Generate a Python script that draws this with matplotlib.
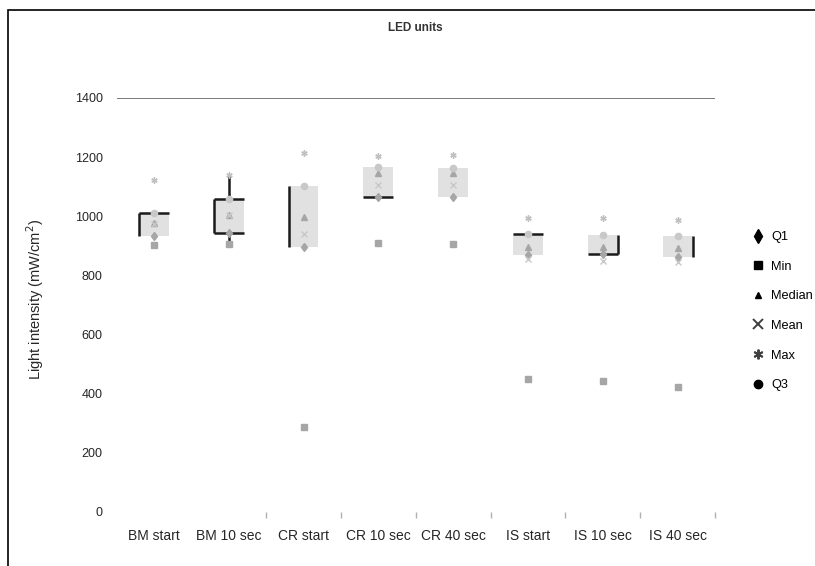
import matplotlib
matplotlib.use("Agg")
import matplotlib.pyplot as plt
from matplotlib.lines import Line2D
from matplotlib.patches import Rectangle
import numpy as np

plt.rcParams["font.family"] = ["Liberation Sans", "DejaVu Sans"]

categories = ["BM start", "BM 10 sec", "CR start", "CR 10 sec",
              "CR 40 sec", "IS start", "IS 10 sec", "IS 40 sec"]
q1 = [933, 944, 896, 1065, 1065, 869, 873, 862]
q3 = [1011, 1060, 1103, 1165, 1163, 940, 937, 933]
median = [977, 1004, 998, 1146, 1146, 896, 896, 893]
mean = [975, 1005, 940, 1106, 1106, 855, 849, 845]
vmax = [1123, 1140, 1214, 1204, 1206, 994, 994, 988]
vmin = [903, 906, 287, 910, 906, 450, 443, 423]

# which box edges got a black outline (l=left, r=right, t=top, b=bottom, w=whisker)
edges = ["lt", "ltbw", "l", "b", "", "t", "rb", "r"]

W, H = 815, 566
fig = plt.figure(figsize=(W / 100, H / 100), dpi=100)
ax = fig.add_axes([116.5 / W, 1 - 512 / H, (715 - 116.5) / W, (512 - 98) / H])

x = np.arange(len(categories))
bw = 0.4
mk_col = "#a6a6a6"
for i in x:
    ax.add_patch(Rectangle((i - bw / 2, q1[i]), bw, q3[i] - q1[i],
                           facecolor="#e1e1e1", edgecolor="none", zorder=1))
    e = edges[i]
    l, r = i - bw / 2, i + bw / 2
    kw = dict(color="#1a1a1a", lw=1.8, zorder=2, solid_capstyle="butt")
    if "l" in e:
        ax.plot([l, l], [q1[i], q3[i]], **kw)
    if "r" in e:
        ax.plot([r, r], [q1[i], q3[i]], **kw)
    if "t" in e:
        ax.plot([l, r], [q3[i], q3[i]], **kw)
    if "b" in e:
        ax.plot([l, r], [q1[i], q1[i]], **kw)
    if "w" in e:
        ax.plot([i, i], [q3[i], vmax[i]], **kw)
        ax.plot([i, i], [vmin[i], q1[i]], **kw)

ms = 4.5
ax.plot(x, q1, "d", color=mk_col, ms=ms, ls="none", zorder=3)
ax.plot(x, vmin, "s", color=mk_col, ms=ms, ls="none", zorder=3)
ax.plot(x, median, "^", color=mk_col, ms=ms, ls="none", zorder=3)
ax.plot(x, mean, "x", color="#c8c8c8", ms=ms, mew=1, ls="none", zorder=3)
ax.plot(x, vmax, marker=(6, 2, 0), color="#c0c0c0", ms=ms, mew=1, ls="none", zorder=3)
ax.plot(x, q3, "o", color="#c8c8c8", ms=ms, ls="none", zorder=3)

ax.axhline(1400, color="#7a7a7a", lw=1.4, zorder=0)

ax.set_xlim(-0.5, 7.5)
ax.set_ylim(0, 1400)
ax.set_yticks(np.arange(0, 1401, 200))
ax.set_xticks(x)
ax.set_xticklabels(categories)
ax.set_xticks(np.arange(1.5, 8, 1), minor=True)
ax.tick_params(axis="x", which="major", length=0, pad=12, labelsize=10, labelcolor="#262626")
ax.tick_params(axis="x", which="minor", length=4, color="#b0b0b0", width=1)
ax.tick_params(axis="y", length=0, pad=10, labelsize=9, labelcolor="#262626")
for s in ax.spines.values():
    s.set_visible(False)

fig.text(35 / W, 1 - 300 / H, "Light intensity (mW/cm$^2$)", rotation=90,
         ha="center", va="center", fontsize=10.5, color="#262626")
fig.text(415 / W, 1 - 28 / H, "LED units", ha="center", va="center",
         fontsize=8.5, fontweight="bold", color="#333333")

handles = [
    Line2D([], [], marker="d", color="black", ls="none", ms=7),
    Line2D([], [], marker="s", color="black", ls="none", ms=6),
    Line2D([], [], marker="^", color="black", ls="none", ms=5),
    Line2D([], [], marker="x", color="#404040", ls="none", ms=7, mew=1.4),
    Line2D([], [], marker=(6, 2, 0), color="#404040", ls="none", ms=7, mew=1.4),
    Line2D([], [], marker="o", color="black", ls="none", ms=6),
]
labels = ["Q1", "Min", "Median", "Mean", "Max", "Q3"]
fig.legend(handles, labels, loc="upper left", bbox_to_anchor=(752 / W, 1 - 231 / H),
           frameon=False, fontsize=9.2, handlelength=0.9, handletextpad=0.6,
           labelspacing=1.38, borderpad=0, borderaxespad=0)

fig.add_artist(Rectangle((7.5 / W, -0.1), 1.2, 1 - 9.5 / H + 0.1, transform=fig.transFigure,
                         facecolor="none", edgecolor="black", lw=1.2))

fig.savefig("out.png", dpi=100)
